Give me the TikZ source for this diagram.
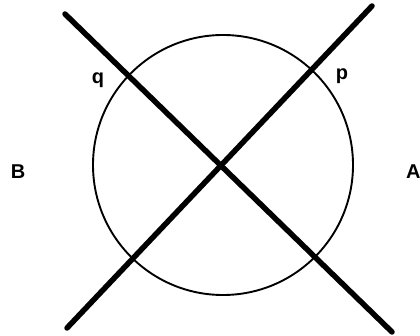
\documentclass[tikz,border=0pt]{standalone}
\usepackage{fontspec}
\setmainfont{Liberation Sans}
\begin{document}
\begin{tikzpicture}[x=1pt,y=-1pt,
  thickline/.style={line width=5.5pt,line cap=round},
  circ/.style={line width=1.9pt},
  lab/.style={font=\bfseries\fontsize{20}{20}\selectfont,inner sep=0pt}]
\useasboundingbox (0,0) rectangle (420,336);
\draw[circ] (223,165) circle (130);
\coordinate (l1a) at (65,14);
\coordinate (l1b) at (392,332);
\coordinate (l2a) at (67,328);
\coordinate (l2b) at (372,6);
\draw[thickline] (l1a) -- (l1b);
\draw[thickline] (l2a) -- (l2b);
\node[lab] (q) at (98,80) {q};
\node[lab] (p) at (342,76) {p};
\node[lab] (B) at (18,172) {B};
\node[lab,anchor=west] (A) at (406,172) {A};
\end{tikzpicture}
\end{document}
